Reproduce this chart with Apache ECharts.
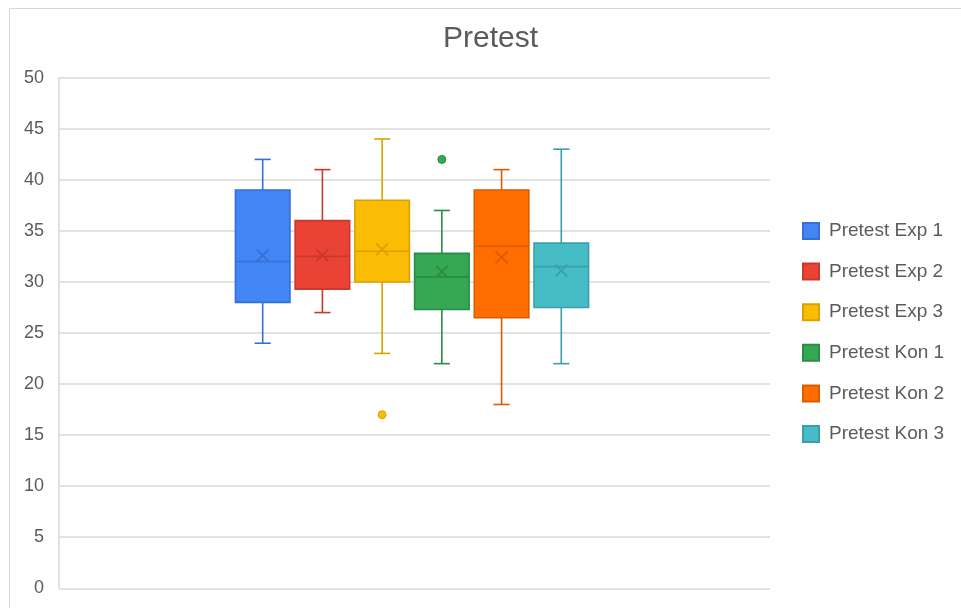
<!DOCTYPE html>
<html>
<head>
<meta charset="utf-8">
<title>Pretest</title>
<script src="https://cdn.jsdelivr.net/npm/echarts@6/dist/echarts.min.js"></script>
<style>
  html, body { margin: 0; padding: 0; background: #ffffff; }
  #chart { width: 961px; height: 608px; }
</style>
</head>
<body>
<div id="chart"></div>
<script>
// Group names, in plotting order
const groups = ['Pretest Exp 1', 'Pretest Exp 2', 'Pretest Exp 3', 'Pretest Kon 1', 'Pretest Kon 2', 'Pretest Kon 3'];

// Five-number summaries and means for each group
const minima  = [24, 27, 23, 22, 18, 22];
const q1      = [28, 29.3, 30, 27.3, 26.5, 27.5];
const medians = [32, 32.5, 33, 30.5, 33.5, 31.5];
const q3      = [39, 36, 38, 32.8, 39, 33.8];
const maxima  = [42, 41, 44, 37, 41, 43];
const means   = [32.6, 32.6, 33.2, 31.0, 32.4, 31.1];

// Outliers: [group index, value]
const outliers = [[2, 17], [3, 42]];

// Y-axis ticks
const yTicks = [0, 5, 10, 15, 20, 25, 30, 35, 40, 45, 50];

// Fill and edge colours per group
const fills = ['#4285F4', '#EA4335', '#FBBC04', '#34A853', '#FF6D01', '#46BDC6'];
const edges = ['#3570d4', '#c8382c', '#d9a200', '#2b8d45', '#d95c00', '#3aa0a8'];

const TEXT = '#5b5b5b';
const GRID_LINE = '#d9d9d9';
const FONT = '"Liberation Sans", Arial, sans-serif';

function renderBox(params, api) {
  const i = api.value(0);
  const lo = api.coord([i, api.value(1)]);
  const b1 = api.coord([i, api.value(2)]);
  const md = api.coord([i, api.value(3)]);
  const b3 = api.coord([i, api.value(4)]);
  const hi = api.coord([i, api.value(5)]);
  const mn = api.coord([i, api.value(6)]);
  const boxW = api.size([0.913, 0])[0];
  const capW = api.size([0.27, 0])[0];
  const x = lo[0];
  const edge = edges[params.seriesIndex];
  const fill = fills[params.seriesIndex];
  const lineStyle = { stroke: edge, lineWidth: 1.6, fill: null };
  const markStyle = { stroke: edge, lineWidth: 1.8, fill: null };
  const xm = 6;
  return {
    type: 'group',
    children: [
      { type: 'line', shape: { x1: x, y1: b3[1], x2: x, y2: hi[1] }, style: lineStyle },
      { type: 'line', shape: { x1: x, y1: b1[1], x2: x, y2: lo[1] }, style: lineStyle },
      { type: 'line', shape: { x1: x - capW / 2, y1: hi[1], x2: x + capW / 2, y2: hi[1] }, style: lineStyle },
      { type: 'line', shape: { x1: x - capW / 2, y1: lo[1], x2: x + capW / 2, y2: lo[1] }, style: lineStyle },
      { type: 'rect', shape: { x: x - boxW / 2, y: b3[1], width: boxW, height: b1[1] - b3[1] },
        style: { fill: fill, stroke: edge, lineWidth: 1.6 } },
      { type: 'line', shape: { x1: x - boxW / 2, y1: md[1], x2: x + boxW / 2, y2: md[1] }, style: lineStyle },
      { type: 'line', shape: { x1: mn[0] - xm, y1: mn[1] - xm, x2: mn[0] + xm, y2: mn[1] + xm }, style: markStyle },
      { type: 'line', shape: { x1: mn[0] - xm, y1: mn[1] + xm, x2: mn[0] + xm, y2: mn[1] - xm }, style: markStyle }
    ]
  };
}

const boxSeries = groups.map(function (name, i) {
  return {
    name: name,
    type: 'custom',
    renderItem: renderBox,
    itemStyle: { color: fills[i], borderColor: edges[i], borderWidth: 1.5 },
    encode: { x: 0, y: [1, 2, 3, 4, 5] },
    data: [[i, minima[i], q1[i], medians[i], q3[i], maxima[i], means[i]]],
    z: 2
  };
});

const outlierSeries = {
  name: 'outliers',
  type: 'scatter',
  symbol: 'circle',
  symbolSize: 8,
  z: 3,
  data: outliers.map(function (o) {
    return {
      value: o,
      itemStyle: { color: fills[o[0]], borderColor: edges[o[0]], borderWidth: 1, opacity: 1 }
    };
  })
};

const chart = echarts.init(document.getElementById('chart'), null, { renderer: 'canvas' });

chart.setOption({
  backgroundColor: '#ffffff',
  animation: false,
  title: {
    text: 'Pretest',
    left: 443,
    top: 23.6,
    padding: 0,
    textStyle: { fontFamily: FONT, fontSize: 30, fontWeight: 'normal', color: TEXT }
  },
  legend: {
    data: groups,
    orient: 'vertical',
    left: 802,
    top: 221.5,
    padding: 0,
    itemWidth: 16,
    itemHeight: 16,
    itemGap: 21.6,
    icon: 'rect',
    textStyle: { fontFamily: FONT, fontSize: 19, color: TEXT, padding: [0, 0, 0, 5] }
  },
  graphic: [
    { type: 'line', silent: true, shape: { x1: 9, y1: 8.5, x2: 961, y2: 8.5 }, style: { stroke: GRID_LINE, lineWidth: 1 } },
    { type: 'line', silent: true, shape: { x1: 9.5, y1: 8, x2: 9.5, y2: 608 }, style: { stroke: GRID_LINE, lineWidth: 1 } }
  ],
  grid: { left: 59, right: 191, top: 77.7, bottom: 19.7, containLabel: false },
  xAxis: {
    type: 'value',
    min: -3.411,
    max: 8.495,
    show: false,
    splitLine: { show: false }
  },
  yAxis: {
    type: 'value',
    min: yTicks[0],
    max: yTicks[yTicks.length - 1],
    interval: yTicks[1] - yTicks[0],
    axisLine: { show: true, onZero: false, lineStyle: { color: GRID_LINE, width: 1.5 } },
    axisTick: { show: false },
    axisLabel: { margin: 15, fontFamily: FONT, fontSize: 18, color: TEXT },
    splitLine: { show: true, lineStyle: { color: GRID_LINE, width: 1.5 } }
  },
  series: boxSeries.concat([outlierSeries])
});
</script>
</body>
</html>
